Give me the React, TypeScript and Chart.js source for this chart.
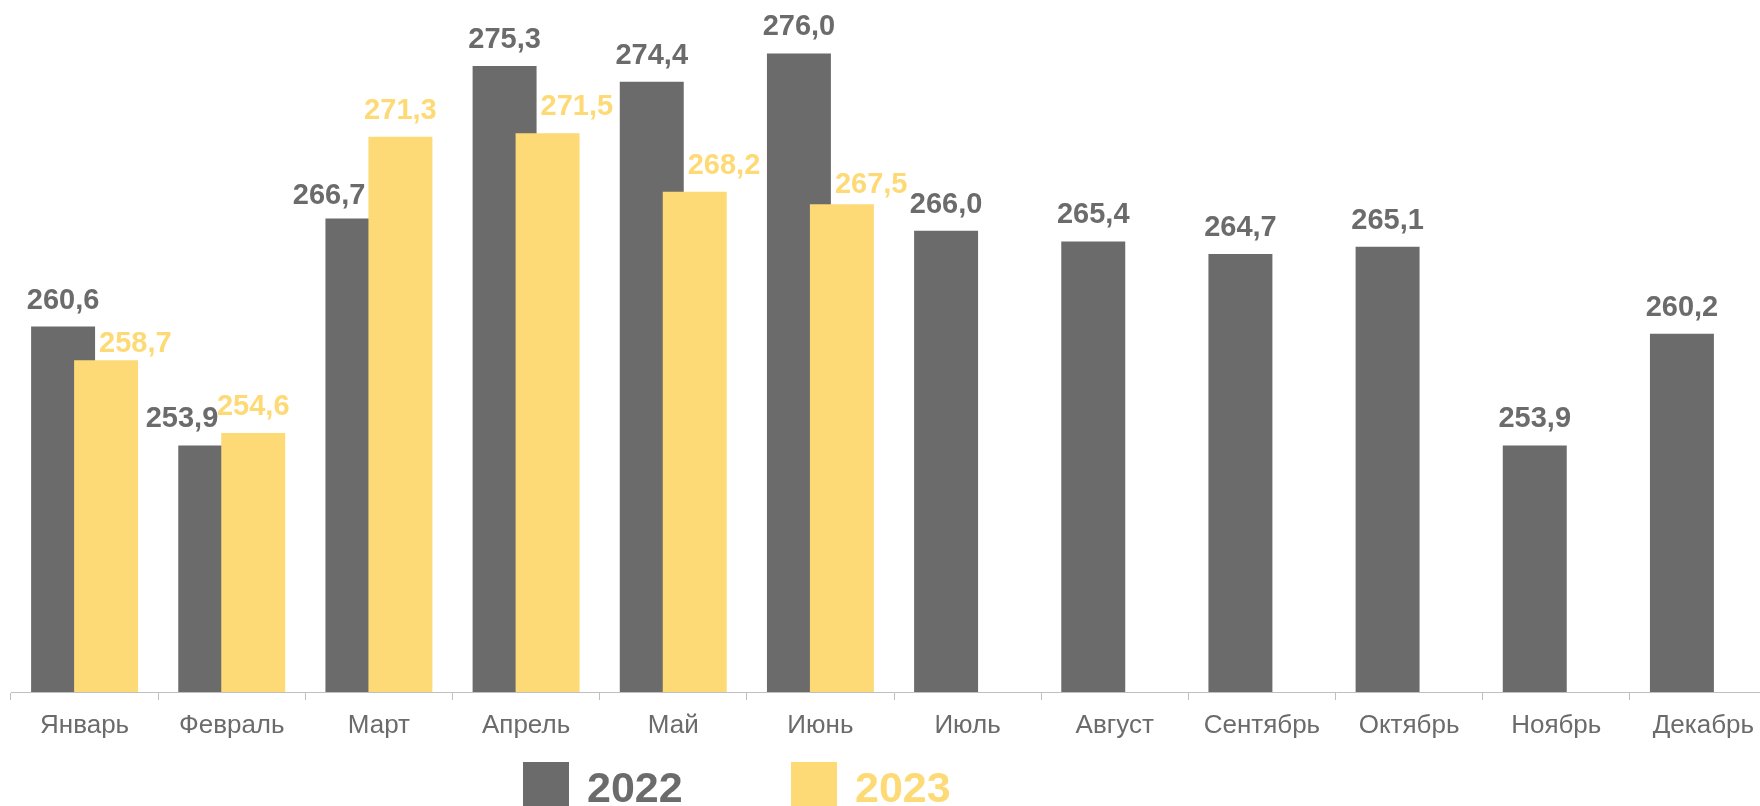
import React, { useEffect, useRef } from 'react';
import { Chart, registerables } from 'chart.js';

Chart.register(...registerables);

const months = ['Январь', 'Февраль', 'Март', 'Апрель', 'Май', 'Июнь', 'Июль', 'Август', 'Сентябрь', 'Октябрь', 'Ноябрь', 'Декабрь'];
const values2022 = [260.6, 253.9, 266.7, 275.3, 274.4, 276.0, 266.0, 265.4, 264.7, 265.1, 253.9, 260.2];
const values2023: (number | null)[] = [258.7, 254.6, 271.3, 271.5, 268.2, 267.5, null, null, null, null, null, null];
const seriesNames = ['2022', '2023'];
const yMin = 240;
const yMax = 278;

const COLORS = ['#6b6b6b', '#fdda75'];
const FONT = '"Liberation Sans", Arial, Helvetica, sans-serif';
// small manual vertical nudges for a few value labels (dataset-index)
const labelNudge: Record<string, number> = { '1-0': 10, '1-5': 7, '0-2': 4 };

const CANVAS_W = 1800;
const CANVAS_H = 806;

const fmt = (v: number) => v.toFixed(1).replace('.', ',');

const overlayPlugin = {
  id: 'overlayLabels',
  beforeDatasetDraw(chart: any, args: any) {
    if (args.index === 1) return false;
    return true;
  },
  afterDatasetsDraw(chart: any) {
    const ctx = chart.ctx;
    const a = chart.chartArea;
    // draw 2023 bars over the 2022 bars (overlapping clusters)
    ctx.save();
    ctx.beginPath();
    ctx.rect(a.left, a.top - 20, a.right - a.left, a.bottom - a.top + 20);
    ctx.clip();
    chart.getDatasetMeta(1).controller.draw();
    ctx.restore();

    ctx.save();
    ctx.font = `bold 29px ${FONT}`;
    ctx.textBaseline = 'alphabetic';
    ctx.textAlign = 'left';
    for (let d = 0; d < 2; d++) {
      const meta = chart.getDatasetMeta(d);
      const other = chart.getDatasetMeta(1 - d);
      const data = chart.data.datasets[d].data;
      const odata = chart.data.datasets[1 - d].data;
      meta.data.forEach((el: any, i: number) => {
        const v = data[i];
        if (v == null) return;
        const txt = fmt(v);
        const w = ctx.measureText(txt).width;
        let left = el.x - w / 2;
        const ov = odata[i];
        const oel = other.data[i];
        if (ov != null && ov > v && oel) {
          const oL = oel.x - oel.width / 2;
          const oR = oel.x + oel.width / 2;
          if (left < oR && left + w > oL) {
            if (oel.x > el.x) left = oL - 3 - w;
            else left = oR + 4;
          }
        }
        const nudge = labelNudge[`${d}-${i}`] || 0;
        ctx.fillStyle = COLORS[d];
        ctx.fillText(txt, left, el.y - 18 + nudge);
      });
    }
    ctx.restore();
  },
  afterDraw(chart: any) {
    const ctx = chart.ctx;
    ctx.save();
    ctx.font = `bold 43px ${FONT}`;
    ctx.textBaseline = 'alphabetic';
    ctx.textAlign = 'left';
    const starts = [523, 791];
    chart.data.datasets.forEach((ds: any, i: number) => {
      const x = starts[i];
      ctx.fillStyle = COLORS[i];
      ctx.fillRect(x, 762, 46, 46);
      ctx.fillText(ds.label, x + 64, 802);
    });
    ctx.restore();
  },
};

export default function App() {
  const ref = useRef<HTMLCanvasElement>(null);
  useEffect(() => {
    if (!ref.current) return;
    const chart = new Chart(ref.current, {
      type: 'bar',
      data: {
        labels: months,
        datasets: [
          { label: seriesNames[0], data: values2022, backgroundColor: COLORS[0], base: yMin, categoryPercentage: 0.5842, barPercentage: 1.488 },
          { label: seriesNames[1], data: values2023, backgroundColor: COLORS[1], base: yMin, categoryPercentage: 0.5842, barPercentage: 1.488 },
        ],
      },
      options: {
        responsive: false,
        animation: false,
        devicePixelRatio: 1,
        layout: { padding: { left: 11, right: CANVAS_W - 1777, top: 18, bottom: 0 } },
        plugins: { legend: { display: false }, tooltip: { enabled: false } },
        scales: {
          x: {
            offset: true,
            grid: { display: true, offset: true, drawOnChartArea: false, drawTicks: true, tickLength: 8, color: '#bfbfbf', lineWidth: 1 },
            border: { display: true, color: '#bfbfbf', width: 1 },
            ticks: { color: '#6b6b6b', font: { family: FONT, size: 26 }, padding: 10, maxRotation: 0, autoSkip: false },
            afterFit: (s: any) => { s.height = 114; },
          },
          y: { display: false, min: yMin, max: yMax },
        },
      },
      plugins: [overlayPlugin],
    } as any);
    return () => chart.destroy();
  }, []);
  return (
    <div style={{ position: 'fixed', left: 0, top: 0, width: 1760, height: 806, overflow: 'hidden', background: '#fff' }}>
      <canvas ref={ref} width={CANVAS_W} height={CANVAS_H} style={{ display: 'block' }} />
    </div>
  );
}
